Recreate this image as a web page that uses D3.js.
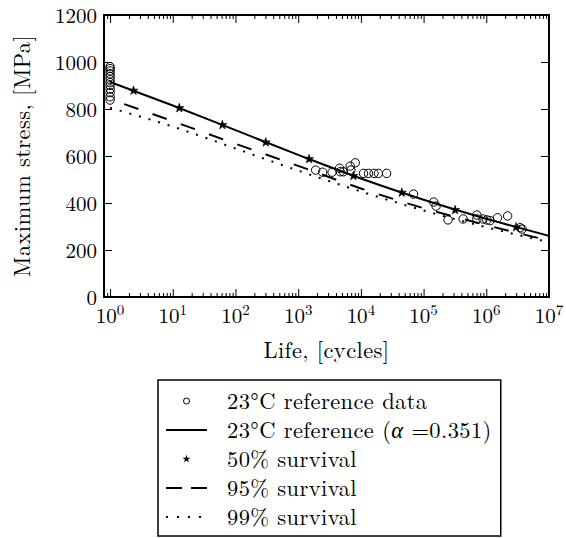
<!DOCTYPE html>
<html><head><meta charset="utf-8">
<script src="https://cdn.jsdelivr.net/npm/d3@7"></script>
<style>
body{margin:0;background:#fff}
svg{display:block}
</style>
</head><body>
<svg id="c" width="566" height="538"></svg>
<script>
// ---------- data ----------
const xTickExponents = [0,1,2,3,4,5,6,7];
const yTickValues = [0,200,400,600,800,1000,1200];

// 23°C reference data (life [cycles], stress [MPa])
const refLife = [1,1,1,1,1,1,1,1,1,1,1,1,
  1900,2450,3470,4570,4680,5250,6760,6920,8130,11000,13200,16200,19000,25700,
  69000,145000,158000,245000,427000,708000,708000,891000,1020000,1150000,1510000,2190000,3470000,3720000];
const refStress = [980,972,962,950,938,925,912,900,885,870,852,838,
  540,531,531,548,533,533,557,540,571,526,526,526,526,526,
  438,404,387,328,332,349,332,332,328,325,337,345,295,289];

// curves sampled at each decade
const curveLife = [1,10,100,1e3,1e4,1e5,1e6,1e7];
const refCurveStress = [915,815,710,605,504,414,333,260];   // 23°C reference (alpha=0.351)
const s95Stress = [842,748,652,558,462,378,306,240];         // 95% survival
const s99Stress = [805,725,632,538,449,368,297,233];         // 99% survival

// 50% survival markers
const s50Life = [2.36,12.7,61.8,304,1490,7590,44900,318000,2990000];
const s50Stress = [878,804,732,658,587,515,444,370,297];

const legendLabels = ["23°C reference data","23°C reference (α =0.351)","50% survival","95% survival","99% survival"];
const xLabel = "Life, [cycles]";
const yLabel = "Maximum stress, [MPa]";

// ---------- chart ----------
const FONT = '"Latin Modern Roman","CMU Serif","Liberation Serif",serif';
const svg = d3.select("#c");
const L=104,R=549,T=15,B=297;
const x = d3.scaleLog().domain([0.8,1e7]).range([L,R]);
const y = d3.scaleLinear().domain([0,1200]).range([B,T]);
const FS = 22.5, FT = 21, LS = 0.4;

const g = svg.append("g");

// curves
const line = d3.line().x(d=>x(d[0])).y(d=>y(d[1])).curve(d3.curveMonotoneX);
const zip = (a,b)=>a.map((v,i)=>[v,b[i]]);

g.append("path").attr("d", line(zip(curveLife,s99Stress)))
  .attr("fill","none").attr("stroke","#000").attr("stroke-width",2)
  .attr("stroke-dasharray","2,8");
g.append("path").attr("d", line(zip(curveLife,s95Stress)))
  .attr("fill","none").attr("stroke","#000").attr("stroke-width",2)
  .attr("stroke-dasharray","15,15").attr("stroke-dashoffset",15);
g.append("path").attr("d", line(zip(curveLife,refCurveStress)))
  .attr("fill","none").attr("stroke","#000").attr("stroke-width",2);

// stars
const star = d3.symbol().type(d3.symbolStar).size(26);
g.selectAll(".star").data(zip(s50Life,s50Stress)).join("path")
  .attr("transform",d=>`translate(${x(d[0])},${y(d[1])})`)
  .attr("d",star()).attr("fill","#000").attr("stroke","#000").attr("stroke-width",0.6);

// circles
g.selectAll(".pt").data(zip(refLife,refStress)).join("circle")
  .attr("cx",d=>x(d[0])).attr("cy",d=>y(d[1])).attr("r",4.2)
  .attr("fill","none").attr("stroke","#000").attr("stroke-width",1);

// axes (ticks inward on all sides)
const majors = xTickExponents.map(e=>Math.pow(10,e));
const minors = [];
[-1,0,1,2,3,4,5,6].forEach(e=>{for(let k=2;k<=9;k++){const v=k*Math.pow(10,e); if(v>0.8 && v<1e7) minors.push(v);}});

function styleAxis(sel){ sel.select(".domain").remove(); sel.selectAll("line").attr("stroke","#000").attr("stroke-width",1); }

svg.append("g").attr("transform",`translate(0,${B})`)
  .call(d3.axisBottom(x).tickValues(majors).tickSize(-8).tickFormat("")).call(styleAxis);
svg.append("g").attr("transform",`translate(0,${B})`)
  .call(d3.axisBottom(x).tickValues(minors).tickSize(-4).tickFormat("")).call(styleAxis);
svg.append("g").attr("transform",`translate(0,${T})`)
  .call(d3.axisTop(x).tickValues(majors).tickSize(-8).tickFormat("")).call(styleAxis);
svg.append("g").attr("transform",`translate(0,${T})`)
  .call(d3.axisTop(x).tickValues(minors).tickSize(-4).tickFormat("")).call(styleAxis);

const yl = svg.append("g").attr("transform",`translate(${L},0)`)
  .call(d3.axisLeft(y).tickValues(yTickValues).tickSize(-8).tickPadding(7).tickFormat(d3.format("d")));
styleAxis(yl);
yl.selectAll("text").attr("font-size",FT).style("font-family",FONT).attr("dy","0.35em").attr("fill","#000");
svg.append("g").attr("transform",`translate(${R},0)`)
  .call(d3.axisRight(y).tickValues(yTickValues).tickSize(-8).tickFormat("")).call(styleAxis);

// x tick labels 10^n
xTickExponents.forEach(e=>{
  const t = svg.append("text").attr("x",x(Math.pow(10,e))).attr("y",323)
    .attr("text-anchor","middle").attr("font-size",FT).style("font-family",FONT);
  t.append("tspan").text("10");
  t.append("tspan").attr("dy",-8).attr("font-size",15).text(String(e));
});

// frame
svg.append("rect").attr("x",L).attr("y",T).attr("width",R-L).attr("height",B-T)
  .attr("fill","none").attr("stroke","#000").attr("stroke-width",2);

// axis labels
svg.append("text").attr("x",(L+R)/2).attr("y",358).attr("text-anchor","middle")
  .attr("font-size",FS).attr("letter-spacing",LS).style("font-family",FONT).text(xLabel);
svg.append("text").attr("transform",`translate(30,${(T+B)/2}) rotate(-90)`)
  .attr("text-anchor","middle").attr("font-size",FS).attr("letter-spacing",LS).style("font-family",FONT).text(yLabel);

// legend
const lg = svg.append("g");
const box = lg.append("rect").attr("x",158).attr("y",380).attr("width",342).attr("height",156)
  .attr("fill","#fff").attr("stroke","#000").attr("stroke-width",1.5);
const hx0=166,hx1=207,tx=227,ry=i=>401+i*29;
lg.append("circle").attr("cx",(hx0+hx1)/2).attr("cy",ry(0)).attr("r",3)
  .attr("fill","none").attr("stroke","#000").attr("stroke-width",1);
lg.append("line").attr("x1",hx0).attr("x2",hx1).attr("y1",ry(1)).attr("y2",ry(1))
  .attr("stroke","#000").attr("stroke-width",2);
lg.append("path").attr("transform",`translate(${(hx0+hx1)/2},${ry(2)})`)
  .attr("d",d3.symbol().type(d3.symbolStar).size(20)()).attr("fill","#000");
lg.append("line").attr("x1",hx0).attr("x2",hx1).attr("y1",ry(3)).attr("y2",ry(3))
  .attr("stroke","#000").attr("stroke-width",2).attr("stroke-dasharray","16,9");
lg.append("line").attr("x1",hx0).attr("x2",hx1).attr("y1",ry(4)).attr("y2",ry(4))
  .attr("stroke","#000").attr("stroke-width",2).attr("stroke-dasharray","2,9");
let maxEnd = 0;
legendLabels.forEach((s,i)=>{
  const t = lg.append("text").attr("x",tx).attr("y",ry(i)).attr("dy","0.35em")
    .attr("font-size",FS).attr("letter-spacing",LS).style("font-family",FONT);
  if(s.includes("α")){
    const [a,b] = s.split("α");
    t.append("tspan").text(a);
    t.append("tspan").attr("font-style","italic").text("α");
    t.append("tspan").text(b);
  } else t.text(s);
  maxEnd = Math.max(maxEnd, tx + t.node().getComputedTextLength());
});
box.attr("width", Math.max(342, maxEnd + 9 - 158));
</script>
</body></html>
